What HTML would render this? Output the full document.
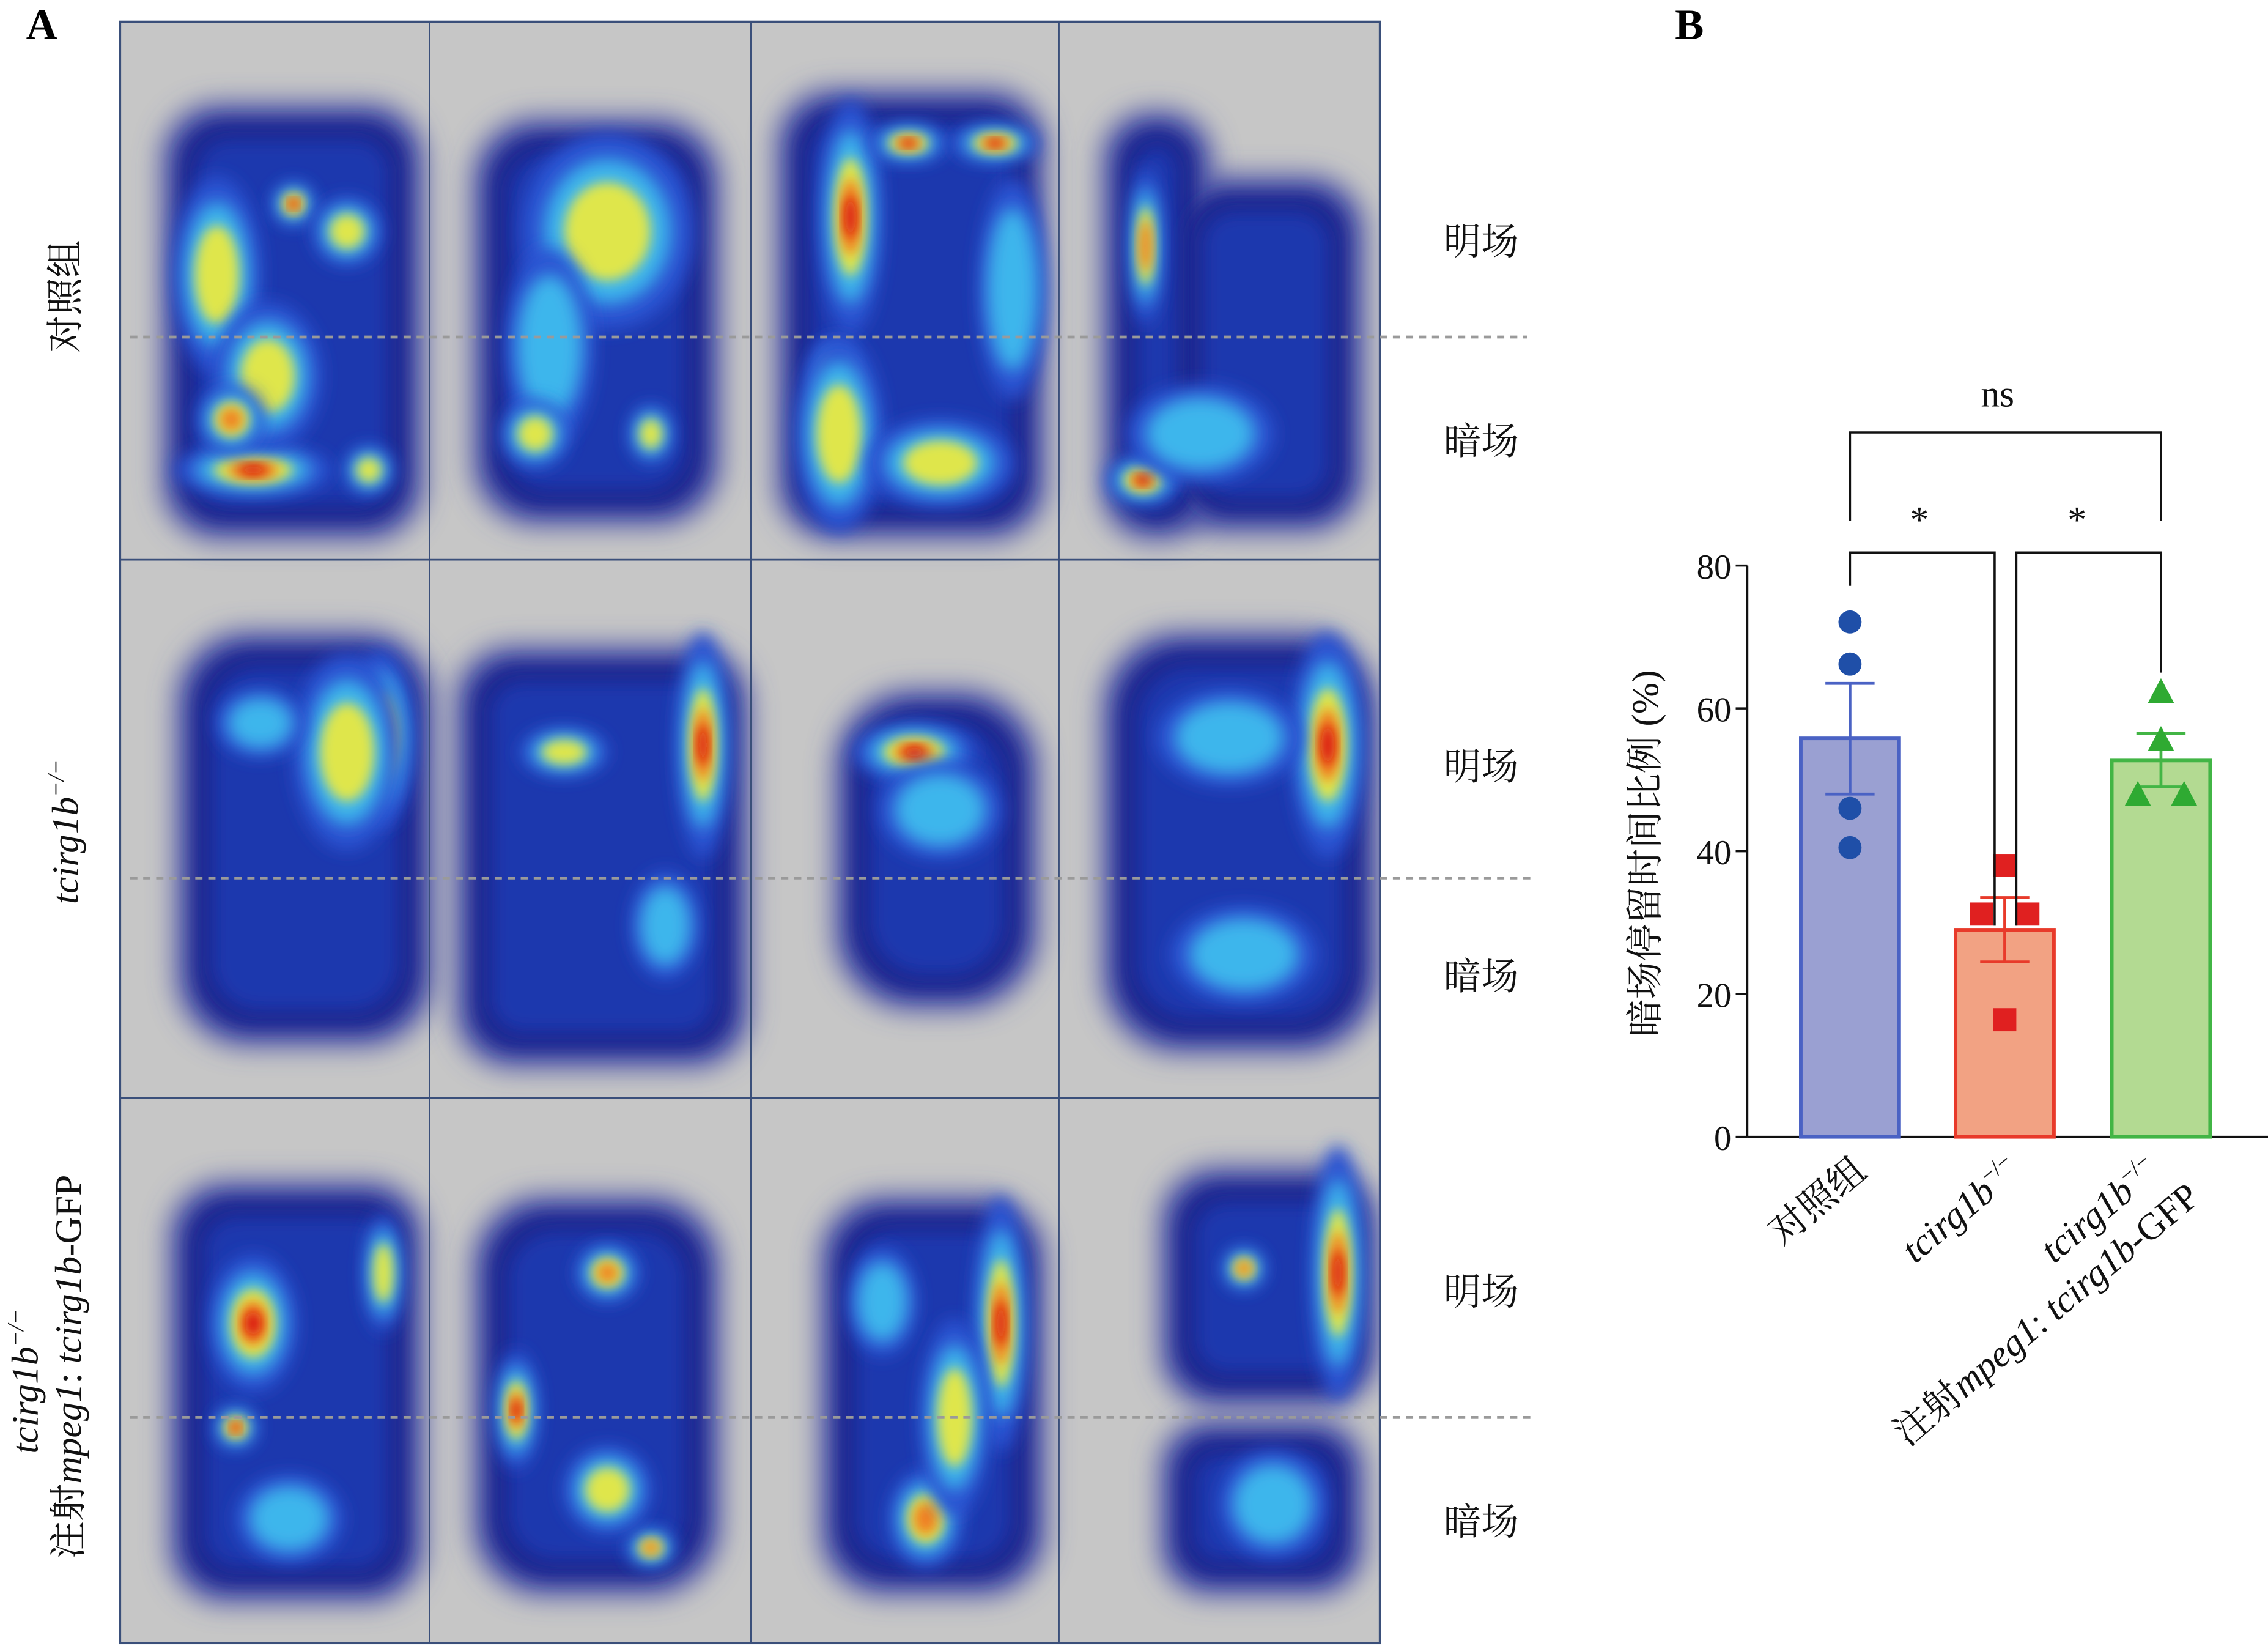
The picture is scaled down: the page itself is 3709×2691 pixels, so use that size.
<!DOCTYPE html>
<html><head><meta charset="utf-8"><style>
html,body{margin:0;padding:0;background:#fff}
svg{display:block}
text{font-family:"Liberation Serif","Noto Serif CJK SC",serif}
</style></head><body>
<svg id="root" width="3709" height="2691" viewBox="0 0 1568 1138" preserveAspectRatio="none" xmlns="http://www.w3.org/2000/svg">
<defs>
<filter id="b1" x="-50%" y="-50%" width="200%" height="200%"><feGaussianBlur stdDeviation="9"/></filter>
<filter id="b2" x="-50%" y="-50%" width="200%" height="200%"><feGaussianBlur stdDeviation="6"/></filter>
<filter id="b3" x="-50%" y="-50%" width="200%" height="200%"><feGaussianBlur stdDeviation="4"/></filter>
<clipPath id="clipA"><rect x="83" y="15" width="871" height="1121"/></clipPath>
</defs>
<rect width="1568" height="1138" fill="#fff"/>
<g id="panelA">
<rect x="83" y="15" width="871" height="1121" fill="#c6c6c6" stroke="#3a4f7a" stroke-width="1.5"/>
<g id="heat" clip-path="url(#clipA)"></g>
<g stroke="#3a4f7a" stroke-width="1.2">
<line x1="297" y1="15" x2="297" y2="1136"/><line x1="519" y1="15" x2="519" y2="1136"/><line x1="732" y1="15" x2="732" y2="1136"/>
<line x1="83" y1="387" x2="954" y2="387"/><line x1="83" y1="759" x2="954" y2="759"/>
</g>
<g stroke="#9a9a9a" stroke-width="2" stroke-dasharray="5,4">
<line x1="90" y1="233" x2="1056" y2="233"/><line x1="90" y1="607" x2="1060" y2="607"/><line x1="90" y1="980" x2="1060" y2="980"/>
</g>
<g font-size="26" fill="#111" text-anchor="middle">
<text x="1024" y="176">明场</text>
<text x="1024" y="314">暗场</text>
<text x="1024" y="539">明场</text>
<text x="1024" y="684">暗场</text>
<text x="1024" y="902">明场</text>
<text x="1024" y="1061">暗场</text>
</g>
<g font-size="26" fill="#111" text-anchor="middle">
<text transform="translate(54,205) rotate(-90)">对照组</text>
<text transform="translate(54,575) rotate(-90)" font-style="italic">tcirg1b<tspan font-size="16" dy="-10">−/−</tspan></text>
<text transform="translate(26,955) rotate(-90)" font-style="italic">tcirg1b<tspan font-size="16" dy="-10">−/−</tspan></text>
<text transform="translate(56,945) rotate(-90)">注射<tspan font-style="italic">mpeg1</tspan>: <tspan font-style="italic">tcirg1b</tspan>-GFP</text>
</g>
<text x="18" y="27" font-size="30" font-weight="bold">A</text>
</g>
<g id="panelB">
<text x="1158" y="27" font-size="30" font-weight="bold">B</text>
<g id="chart"></g>
</g>
</svg>
<script>
const NS="http://www.w3.org/2000/svg";
function mk(tag,attrs,parent){const e=document.createElementNS(NS,tag);for(const k in attrs)e.setAttribute(k,attrs[k]);parent.appendChild(e);return e;}
// ---------- heatmaps ----------
const heat=document.getElementById('heat');
const cells=[
 {o:[[115,75,175,295,40]],h:[[203,141,9,9,4],[175,325,32,11,4],[150,190,18,40,2],[185,260,22,30,2],[160,290,14,14,3],[255,325,10,10,2],[240,160,14,14,2]]},
 {o:[[330,85,165,275,45]],h:[[418,148,26,26,4],[420,160,35,40,2],[380,240,18,40,1],[450,300,9,12,2],[370,300,14,14,2]]},
 {o:[[540,65,180,305,40]],h:[[588,150,13,48,4],[628,99,16,8,4],[688,99,18,8,4],[577,258,9,13,3],[580,300,18,40,2],[700,200,14,45,1],[650,320,30,18,2]]},
 {o:[[765,80,70,290,35],[810,125,130,240,40]],h:[[792,170,7,32,3],[790,332,15,10,4],[830,300,30,20,1]]},
 {o:[[125,440,172,280,50]],h:[[263,510,14,36,4],[240,520,22,40,2],[180,500,18,14,1]]},
 {o:[[318,450,197,285,40]],h:[[486,515,11,46,4],[390,520,18,10,2],[460,640,14,22,1]]},
 {o:[[580,480,135,215,55]],h:[[632,520,25,12,4],[650,560,25,20,1]]},
 {o:[[765,440,185,285,55]],h:[[918,515,15,46,4],[850,510,30,20,1],[860,660,30,20,1]]},
 {o:[[120,820,170,285,40]],h:[[175,915,18,28,4],[163,987,9,9,4],[265,880,8,24,2],[200,1050,22,18,1]]},
 {o:[[330,830,165,270,50]],h:[[357,975,9,24,4],[420,880,13,12,3],[450,1070,10,8,3],[420,1030,18,18,2]]},
 {o:[[570,830,150,270,45]],h:[[692,915,11,52,4],[640,1050,15,20,3],[660,980,14,40,2],[610,900,14,22,1]]},
 {o:[[805,810,145,160,40],[805,985,135,115,35]],h:[[925,880,11,52,4],[860,877,9,9,3],[880,1040,22,22,1]]}
];
const layers=[[1.7,'#2a52d2','b2'],[1.25,'#3cb6ec','b2'],[0.85,'#dfe64c','b3'],[0.55,'#f08020','b3'],[0.3,'#d81010','b3']];
cells.forEach((c,i)=>{
 const g=mk('g',{},heat);
 
 
 c.o.forEach(r=>{mk('rect',{x:r[0]-4,y:r[1]-4,width:r[2]+8,height:r[3]+8,rx:r[4],fill:'#4d55a8',filter:'url(#b1)'},g);});
 c.o.forEach(r=>{mk('rect',{x:r[0]+8,y:r[1]+8,width:r[2]-16,height:r[3]-16,rx:r[4]-8,fill:'#1a2890',filter:'url(#b2)'},g);});
 c.o.forEach(r=>{mk('rect',{x:r[0]+22,y:r[1]+22,width:r[2]-44,height:r[3]-44,rx:Math.max(r[4]-18,8),fill:'#1e38ae',filter:'url(#b2)'},g);});
 c.h.forEach(h=>{
  for(let L=0;L<=h[4];L++){
   const s=layers[L];
   mk('ellipse',{cx:h[0],cy:h[1],rx:h[2]*s[0],ry:h[3]*s[0],fill:s[1],filter:'url(#'+s[2]+')'},g);
  }
 });
});
// ---------- bar chart ----------
const categories=['对照组','tcirg1b−/−','rescue'];
const means=[55.8,29.0,52.7];
const semLow=[48.0,24.5,49.0];
const semHigh=[63.5,33.5,56.5];
const ptsControl=[72.1,66.2,46.0,40.5];
const ptsMutant=[38.0,31.2,31.2,16.4];
const ptsRescue=[62.2,55.5,47.8,47.8];
const yTicks=[0,20,40,60,80];
const ch=document.getElementById('chart');
const y0=786,yTop=391,yMax=80;
const Y=v=>y0-(v/yMax)*(y0-yTop);
const centers=[1279,1386,1494];
const X=i=>centers[i];
const bw=68;
const fills=['#9aa0d2','#f2a283','#b3da92'];
const strokes=['#4a62c4','#e83a2a','#42b545'];
const ptc=['#1f4fa8','#e02020','#2faa32'];
const ax=mk('line',{x1:1208,y1:y0,x2:1208,y2:yTop,stroke:'#111','stroke-width':1.5},ch);

const xa=mk('line',{x1:1208,y1:y0,x2:1568,y2:y0,stroke:'#111','stroke-width':1.5},ch);

yTicks.forEach(t=>{
 mk('line',{x1:1200,y1:Y(t),x2:1208,y2:Y(t),stroke:'#111','stroke-width':1.5},ch);
 const tx=mk('text',{x:1197,y:Y(t)+9,'font-size':24,'text-anchor':'end',fill:'#111'},ch);
 tx.textContent=t;
 
 
});
const yt=mk('text',{transform:'translate(1146,590) rotate(-90)','font-size':26,'text-anchor':'middle',fill:'#111'},ch);
yt.textContent='暗场停留时间比例 (%)';


means.forEach((m,i)=>{
 const r=mk('rect',{x:X(i)-bw/2,y:Y(m),width:bw,height:y0-Y(m),fill:fills[i],stroke:strokes[i],'stroke-width':2.5},ch);
 
 
 const e=mk('path',{d:`M${X(i)} ${Y(semLow[i])}V${Y(semHigh[i])}M${X(i)-17} ${Y(semLow[i])}H${X(i)+17}M${X(i)-17} ${Y(semHigh[i])}H${X(i)+17}`,stroke:strokes[i],'stroke-width':2,fill:'none'},ch);
 
 
});
const offs=[0,-16,16,0];
ptsControl.forEach((v,j)=>{const c=mk('circle',{cx:X(0),cy:Y(v),r:8,fill:ptc[0]},ch);});
ptsMutant.forEach((v,j)=>{const c=mk('rect',{x:X(1)+offs[j]-8,y:Y(v)-8,width:16,height:16,fill:ptc[1]},ch);});
const toffs=[0,0,-16,16];
ptsRescue.forEach((v,j)=>{const cx=X(2)+toffs[j],cy=Y(v);const c=mk('path',{d:`M${cx} ${cy-10}L${cx+9} ${cy+7}L${cx-9} ${cy+7}Z`,fill:ptc[2]},ch);});
const sig=mk('path',{d:'M1279 360V299H1494V360M1279 405V382H1379V640M1394 640V382H1494V465',stroke:'#111','stroke-width':1.5,fill:'none'},ch);

[['ns',1381,281,26],['*',1327,368,26],['*',1436,368,26]].forEach(s=>{const t=mk('text',{x:s[1],y:s[2],'font-size':s[3],'text-anchor':'middle',fill:'#111'},ch);t.textContent=s[0];});
function xl(html,x,y,name){const t=mk('text',{transform:`translate(${x},${y}) rotate(-40)`,'font-size':26,'text-anchor':'end',fill:'#111'},ch);t.innerHTML=html;}
xl('对照组',1292,812,'x-label-control');
xl('<tspan font-style="italic">tcirg1b</tspan><tspan font-size="16" dy="-10">−/−</tspan>',1398,812,'x-label-mutant');
xl('<tspan font-style="italic">tcirg1b</tspan><tspan font-size="16" dy="-10">−/−</tspan>',1494,812,'x-label-rescue-1');
xl('注射<tspan font-style="italic">mpeg1</tspan>: <tspan font-style="italic">tcirg1b</tspan>-GFP',1522,830,'x-label-rescue-2');
</script>
</body></html>
